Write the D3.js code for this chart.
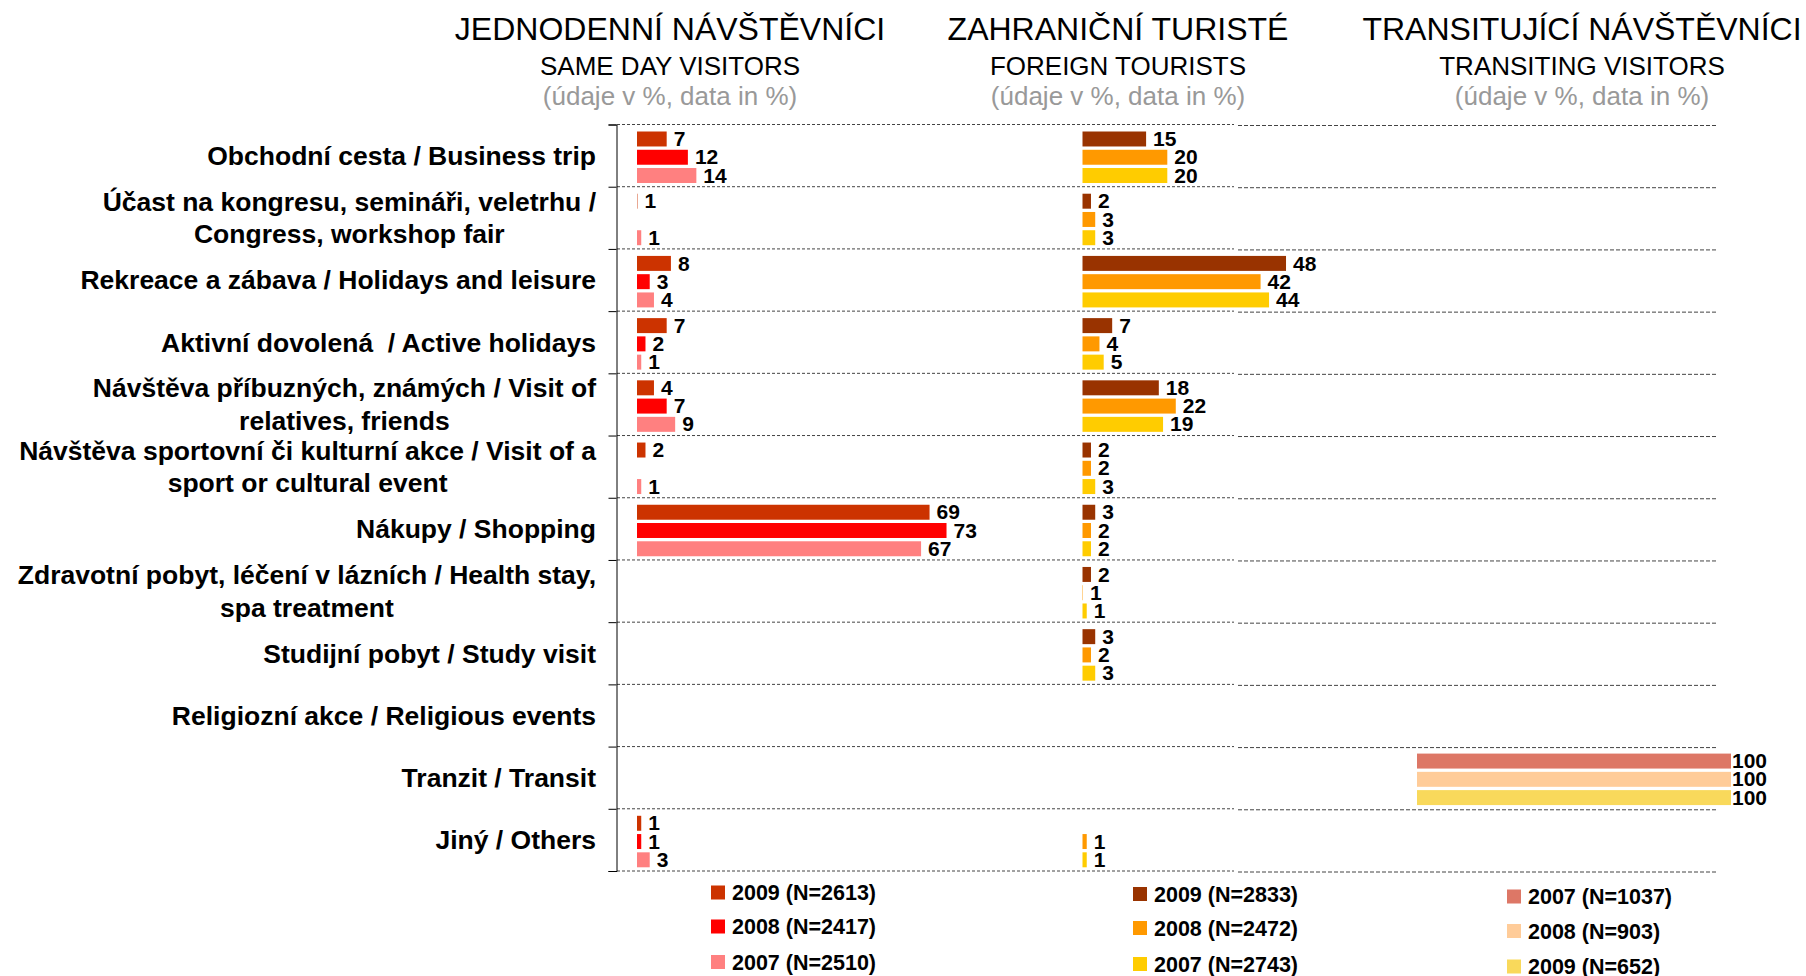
<!DOCTYPE html>
<html>
<head>
<meta charset="utf-8">
<script src="https://cdn.jsdelivr.net/npm/d3@7"></script>
<style>
body { margin: 0; background: #fff; }
svg { display: block; font-family: "Liberation Sans", Arial, sans-serif; }
</style>
</head>
<body>
<script>
// categories, one entry per row (lines of the label)
const categories = [
    ["Obchodní cesta / Business trip"],
    ["Účast na kongresu, semináři, veletrhu /", "Congress, workshop fair"],
    ["Rekreace a zábava / Holidays and leisure"],
    ["Aktivní dovolená  / Active holidays"],
    ["Návštěva příbuzných, známých / Visit of", "relatives, friends"],
    ["Návštěva sportovní či kulturní akce / Visit of a", "sport or cultural event"],
    ["Nákupy / Shopping"],
    ["Zdravotní pobyt, léčení v lázních / Health stay,", "spa treatment"],
    ["Studijní pobyt / Study visit"],
    ["Religiozní akce / Religious events"],
    ["Tranzit / Transit"],
    ["Jiný / Others"]
];

// values in %, null = no bar (0.1 = bar too thin to see, labelled 1)
const sameDay2009 = [7, 0.1, 8, 7, 4, 2, 69, null, null, null, null, 1];
const sameDay2008 = [12, null, 3, 2, 7, null, 73, null, null, null, null, 1];
const sameDay2007 = [14, 1, 4, 1, 9, 1, 67, null, null, null, null, 3];

const foreign2009 = [15, 2, 48, 7, 18, 2, 3, 2, 3, null, null, null];
const foreign2008 = [20, 3, 42, 4, 22, 2, 2, 0.1, 2, null, null, 1];
const foreign2007 = [20, 3, 44, 5, 19, 3, 2, 1, 3, null, null, 1];

const transit2007 = [null, null, null, null, null, null, null, null, null, null, 100, null];
const transit2008 = [null, null, null, null, null, null, null, null, null, null, 100, null];
const transit2009 = [null, null, null, null, null, null, null, null, null, null, 100, null];

const titles = ["JEDNODENNÍ NÁVŠTĚVNÍCI", "ZAHRANIČNÍ TURISTÉ", "TRANSITUJÍCÍ NÁVŠTĚVNÍCI"];
const subtitles = ["SAME DAY VISITORS", "FOREIGN TOURISTS", "TRANSITING VISITORS"];
const unitNote = "(údaje v %, data in %)";

const legendSameDay = ["2009 (N=2613)", "2008 (N=2417)", "2007 (N=2510)"];
const legendForeign = ["2009 (N=2833)", "2008 (N=2472)", "2007 (N=2743)"];
const legendTransit = ["2007 (N=1037)", "2008 (N=903)", "2009 (N=652)"];

const width = 1806, height = 976;

const svg = d3.select("body").append("svg")
    .attr("width", width)
    .attr("height", height);

const rowTop = 124.5, rowBottom = 871;
const yScale = d3.scaleBand().domain(d3.range(categories.length)).range([rowTop, rowBottom]);
const yEdge = d3.scaleLinear().domain([0, categories.length]).range([rowTop, rowBottom]);
const inner = d3.scaleBand().domain([0, 1, 2]).range([7, 58.5]).paddingInner(0.18);

const panels = [
    {
        title: titles[0], sub: subtitles[0], cx: 670,
        x: d3.scaleLinear().domain([0, 100]).range([637, 1061]),
        gap: 7,
        series: [sameDay2009, sameDay2008, sameDay2007],
        colors: ["#CC3300", "#FF0000", "#FF8080"],
        legend: legendSameDay, lx: 711, ly: [892.5, 926.5, 962]
    },
    {
        title: titles[1], sub: subtitles[1], cx: 1118,
        x: d3.scaleLinear().domain([0, 100]).range([1082.5, 1506.5]),
        gap: 7,
        series: [foreign2009, foreign2008, foreign2007],
        colors: ["#993300", "#FF9900", "#FFCC00"],
        legend: legendForeign, lx: 1133, ly: [894, 928, 964]
    },
    {
        title: titles[2], sub: subtitles[2], cx: 1582,
        x: d3.scaleLinear().domain([0, 100]).range([1417, 1731]),
        gap: 1,
        series: [transit2007, transit2008, transit2009],
        colors: ["#DD7766", "#FFCC99", "#F9D95B"],
        legend: legendTransit, lx: 1507, ly: [896.5, 931, 966.5]
    }
];

// gridlines
const edges = d3.range(categories.length + 1);
svg.append("g").selectAll("line")
    .data(edges)
    .enter()
    .append("line")
    .attr("x1", 617).attr("x2", 1234)
    .attr("y1", (d) => yEdge(d)).attr("y2", (d) => yEdge(d))
    .attr("stroke", "#444")
    .attr("stroke-dasharray", "3,2");

svg.append("g").selectAll("line")
    .data(edges)
    .enter()
    .append("line")
    .attr("x1", 1238).attr("x2", 1716)
    .attr("y1", (d) => yEdge(d) + 1).attr("y2", (d) => yEdge(d) + 1)
    .attr("stroke", "#444")
    .attr("stroke-dasharray", "4,2");

// category axis
svg.append("g")
    .attr("transform", "translate(616.5,0)")
    .call(d3.axisLeft(yEdge).ticks(categories.length).tickSize(8).tickSizeOuter(8).tickFormat(""))
    .call((g) => g.selectAll("path, line").attr("stroke", "#000"));

// row labels
const labelRight = 596;
categories.forEach(function (lines, i) {
    const cy = yScale(i) + yScale.bandwidth() / 2;
    const g = svg.append("g");
    const lineH = 32.5;
    const texts = lines.map(function (line, j) {
        return g.append("text")
            .attr("y", cy + (j - (lines.length - 1) / 2) * lineH)
            .attr("dy", "0.35em")
            .attr("text-anchor", "middle")
            .style("white-space", "pre")
            .style("font-size", "26.5px")
            .style("font-weight", "700")
            .text(line);
    });
    const maxW = d3.max(texts, (t) => t.node().getComputedTextLength());
    texts.forEach((t) => t.attr("x", labelRight - maxW / 2));
});

// panels
panels.forEach(function (p) {
    svg.append("text")
        .attr("x", p.cx).attr("y", 40)
        .attr("text-anchor", "middle")
        .style("font-size", "32px")
        .text(p.title);
    svg.append("text")
        .attr("x", p.cx).attr("y", 75)
        .attr("text-anchor", "middle")
        .style("font-size", "26px")
        .text(p.sub);
    svg.append("text")
        .attr("x", p.cx).attr("y", 105)
        .attr("text-anchor", "middle")
        .style("font-size", "26px")
        .attr("fill", "#999")
        .text(unitNote);

    p.series.forEach(function (values, s) {
        const items = values.map((v, i) => ({v: v, i: i})).filter((d) => d.v !== null);
        const g = svg.append("g");
        g.selectAll("rect")
            .data(items)
            .enter()
            .append("rect")
            .attr("x", p.x(0))
            .attr("y", (d) => yScale(d.i) + inner(s))
            .attr("width", (d) => p.x(d.v) - p.x(0))
            .attr("height", inner.bandwidth())
            .attr("fill", p.colors[s]);
        g.selectAll("text")
            .data(items)
            .enter()
            .append("text")
            .attr("x", (d) => p.x(d.v) + p.gap)
            .attr("y", (d) => yScale(d.i) + inner(s) + inner.bandwidth() / 2)
            .attr("dy", "0.34em")
            .style("font-size", "21px")
            .style("font-weight", "700")
            .text((d) => Math.ceil(d.v));
    });

    const lg = svg.append("g");
    p.legend.forEach(function (name, s) {
        lg.append("rect")
            .attr("x", p.lx).attr("y", p.ly[s] - 7)
            .attr("width", 14).attr("height", 14)
            .attr("fill", p.colors[s]);
        lg.append("text")
            .attr("x", p.lx + 21).attr("y", p.ly[s])
            .attr("dy", "0.36em")
            .style("font-size", "21.5px")
            .style("font-weight", "700")
            .text(name);
    });
});
</script>
</body>
</html>
